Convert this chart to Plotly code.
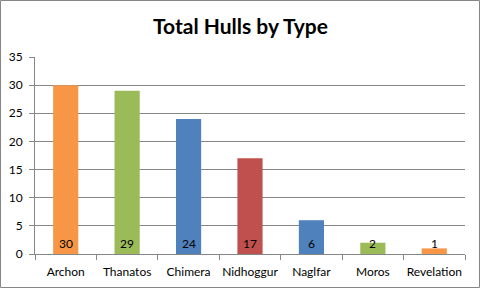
import plotly.graph_objects as go

categories = ["Archon", "Thanatos", "Chimera", "Nidhoggur", "Naglfar", "Moros", "Revelation"]
values = [30, 29, 24, 17, 6, 2, 1]
colors = ["#F79646", "#9BBB59", "#4F81BD", "#C0504D", "#4F81BD", "#9BBB59", "#F79646"]
yticks = [0, 5, 10, 15, 20, 25, 30, 35]

W, H = 481, 289
L, R, T, B = 35, 16, 57, 35
pw, ph = W - L - R, H - T - B

fig = go.Figure()
fig.add_trace(go.Bar(x=categories, y=values, marker=dict(color=colors, line=dict(width=0)),
                     width=0.41, hoverinfo="x+y"))

for c, v in zip(categories, values):
    fig.add_annotation(x=c, y=0, text=str(v), showarrow=False, yanchor="middle", yshift=11,
                       font=dict(family="Lato", size=12, color="#000000"))

gray = "#868686"
fig.add_shape(type="rect", xref="paper", yref="paper",
              x0=(0.5 - L) / pw, x1=(W - 1.5 - L) / pw,
              y0=-(H - 1.5 - T - ph) / ph, y1=(ph + T - 0.5) / ph,
              line=dict(color=gray, width=1), layer="above")

fig.update_layout(
    width=W, height=H,
    margin=dict(l=L, r=R, t=T, b=B, pad=0, autoexpand=False),
    paper_bgcolor="white", plot_bgcolor="white",
    showlegend=False,
    title=dict(text="<b>Total Hulls by Type</b>", x=0.5, xanchor="center", y=1 - 27 / H, yanchor="middle",
               font=dict(family="Lato", size=21, color="#000000")),
    xaxis=dict(showline=True, linecolor=gray, linewidth=1, ticks="outside", tickson="boundaries",
               ticklen=5, tickcolor=gray, tickangle=0, automargin=False, ticklabelstandoff=7,
               tickfont=dict(family="Lato", size=12, color="#000000"),
               showgrid=False, fixedrange=True),
    yaxis=dict(range=[0, 35], tickvals=yticks, showline=True, linecolor=gray, linewidth=1,
               ticks="outside", ticklen=5, tickcolor=gray, showgrid=True, gridcolor=gray, gridwidth=1,
               zeroline=False, automargin=False, ticklabelstandoff=4,
               tickfont=dict(family="Lato", size=12, color="#000000"),
               fixedrange=True),
    bargap=0.59,
)

fig.write_html("out.html", config=dict(displayModeBar=False))
